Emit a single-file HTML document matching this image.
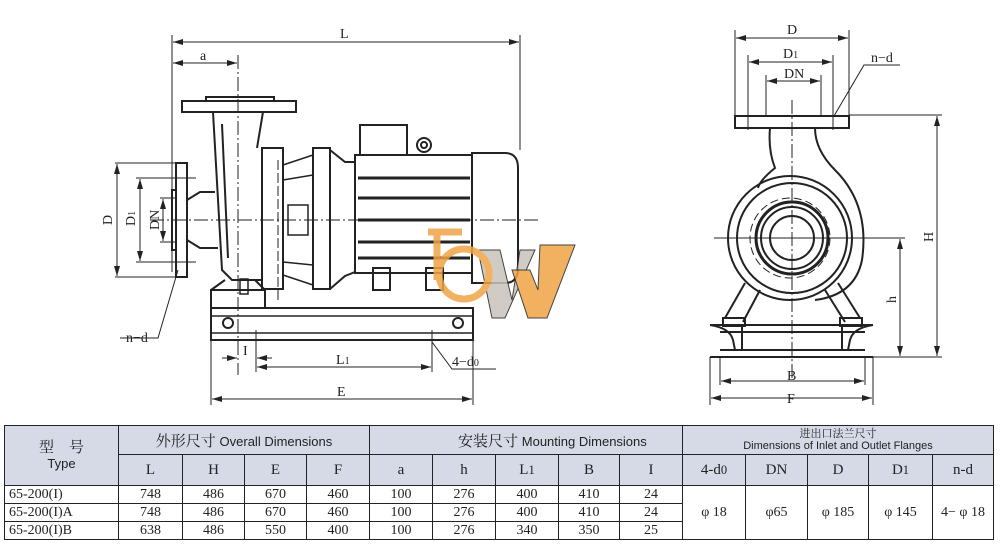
<!DOCTYPE html>
<html><head><meta charset="utf-8"><style>
html,body{margin:0;padding:0;background:#fff;width:1000px;height:549px;overflow:hidden}
svg{position:absolute;left:0;top:0}
table{position:absolute;left:4px;top:425px;border-collapse:collapse;font-family:"Liberation Serif","Noto Serif CJK SC",serif;table-layout:fixed}
td{border:1.5px solid #222;text-align:center;padding:0;color:#222;font-size:15px;overflow:hidden;white-space:nowrap}
.h{background:#d6dae7}
.s{font-family:"Liberation Sans","Noto Sans CJK SC",sans-serif;font-size:13px}
.d td{height:17px;line-height:17px;font-size:14px}
.d td.l{text-align:left;padding-left:4px}
</style></head><body>
<svg width="1000" height="420" viewBox="0 0 1000 420" font-family="Liberation Serif, serif" font-size="14" fill="none" stroke="#222">
<defs><marker id="a" markerWidth="10" markerHeight="6" refX="10" refY="3" orient="auto-start-reverse"><path d="M0,0 L10,3 L0,6z" fill="#222" stroke="none"/></marker></defs>
<g stroke-width="1" >
<!-- left dims -->
<line x1="172" y1="35" x2="172" y2="272"/><line x1="520" y1="35" x2="520" y2="150"/>
<line x1="173" y1="42" x2="519" y2="42" marker-start="url(#a)" marker-end="url(#a)"/>
<line x1="173" y1="63" x2="237" y2="63" marker-start="url(#a)" marker-end="url(#a)"/>
<line x1="238" y1="55" x2="238" y2="375" stroke-dasharray="14,3,2,3"/>
<line x1="115" y1="163" x2="178" y2="163"/><line x1="115" y1="277" x2="178" y2="277"/>
<line x1="117" y1="164" x2="117" y2="276" marker-start="url(#a)" marker-end="url(#a)"/>
<line x1="136" y1="178" x2="196" y2="178"/><line x1="136" y1="262" x2="196" y2="262"/>
<line x1="140" y1="179" x2="140" y2="261" marker-start="url(#a)" marker-end="url(#a)"/>
<line x1="160" y1="198" x2="176" y2="198"/><line x1="160" y1="242" x2="176" y2="242"/>
<line x1="163" y1="199" x2="163" y2="241" marker-start="url(#a)" marker-end="url(#a)"/>
<line x1="150" y1="220" x2="540" y2="220" stroke-dasharray="14,3,2,3"/>
<polyline points="178,270 158,338 120,338"/>
<line x1="211" y1="340" x2="211" y2="405"/><line x1="473" y1="340" x2="473" y2="405"/>
<line x1="256" y1="330" x2="256" y2="372"/><line x1="432" y1="330" x2="432" y2="372"/>
<line x1="212" y1="399" x2="472" y2="399" marker-start="url(#a)" marker-end="url(#a)"/>
<line x1="257" y1="367" x2="431" y2="367" marker-start="url(#a)" marker-end="url(#a)"/>
<line x1="222" y1="358" x2="237" y2="358" marker-end="url(#a)"/><line x1="272" y1="358" x2="257" y2="358" marker-end="url(#a)"/>
<polyline points="432,342 452,369 496,369"/>
<line x1="278" y1="160" x2="278" y2="300" stroke-dasharray="10,3"/>
</g>
<g stroke-width="2">
<!-- pump -->
<rect x="182" y="101" width="114" height="11"/><rect x="206" y="97" width="68" height="4"/>
<path d="M213,112 L222,270 L232,280 L262,280 M263,112 L257,148"/>
<path d="M222,124 L228,258"/>
<rect x="176" y="163" width="11" height="114"/><rect x="172" y="190" width="4" height="60"/>
<path d="M187,200 L200,192 L215,192 M187,240 L200,248 L218,248"/>
<rect x="262" y="148" width="21" height="141"/>
<path d="M283,165 L313,155 M283,275 L313,285 M283,180 L313,175 M283,262 L313,265" stroke-width="1.5"/>
<rect x="288" y="205" width="20" height="30" stroke-width="1.5"/>
<rect x="313" y="148" width="17" height="141"/>
<path d="M330,150 L345,162 L355,162 L355,272 L345,276 L330,289"/>
<rect x="355" y="155" width="117" height="118"/>
<path d="M358,178 H470 M358,198 H470 M358,220 H470 M358,242 H470 M358,258 H470" stroke-width="3"/>
<path d="M472,153 H505 Q518,153 518,168 V268 Q518,283 505,283 H472 Z"/>
<rect x="360" y="125" width="47" height="30"/>
<circle cx="424" cy="145" r="7"/><circle cx="424" cy="145" r="3"/>
<rect x="373" y="268" width="17" height="22"/><rect x="426" y="268" width="17" height="22"/>
<path d="M211,290 L225,280 M265,290 L255,280"/>
<rect x="211" y="290" width="54" height="18"/>
<rect x="211" y="308" width="262" height="32"/>
<line x1="211" y1="316" x2="473" y2="316" stroke-width="1.5"/><line x1="211" y1="333" x2="473" y2="333" stroke-width="1.5"/>
<circle cx="228" cy="323" r="5"/><circle cx="458" cy="323" r="5"/>
<rect x="240" y="279" width="8" height="15" stroke-width="1.5"/>
</g>
<g fill="#222" stroke="none" font-size="14">
<text x="340" y="38">L</text><text x="200" y="60">a</text>
<text x="126" y="342">n−d</text><text x="452" y="366">4−d<tspan font-size="10">0</tspan></text>
<text x="243" y="355">I</text><text x="336" y="364">L<tspan font-size="10">1</tspan></text><text x="337" y="396">E</text>
<text transform="translate(112,225) rotate(-90)">D</text>
<text transform="translate(135,226) rotate(-90)">D<tspan font-size="10">1</tspan></text>
<text transform="translate(159,230) rotate(-90)">DN</text>
<!-- right labels -->
<text x="787" y="34">D</text><text x="783" y="58">D<tspan font-size="10">1</tspan></text><text x="784" y="78">DN</text>
<text x="871" y="62">n−d</text><text transform="translate(933,242) rotate(-90)">H</text>
<text transform="translate(896,303) rotate(-90)">h</text>
<text x="787" y="380">B</text><text x="787" y="403">F</text>
</g>
<!-- right drawing -->
<g stroke-width="1">
<line x1="735" y1="30" x2="735" y2="116"/><line x1="849" y1="30" x2="849" y2="116"/>
<line x1="736" y1="38" x2="848" y2="38" marker-start="url(#a)" marker-end="url(#a)"/>
<line x1="748" y1="55" x2="748" y2="130"/><line x1="833" y1="55" x2="833" y2="130"/>
<line x1="749" y1="62" x2="832" y2="62" marker-start="url(#a)" marker-end="url(#a)"/>
<line x1="766" y1="75" x2="766" y2="116"/><line x1="821" y1="75" x2="821" y2="116"/>
<line x1="767" y1="81" x2="820" y2="81" marker-start="url(#a)" marker-end="url(#a)"/>
<polyline points="834,116 864,65 900,65"/>
<line x1="849" y1="115" x2="942" y2="115"/><line x1="860" y1="357" x2="942" y2="357"/>
<line x1="937" y1="116" x2="937" y2="356" marker-start="url(#a)" marker-end="url(#a)"/>
<line x1="900" y1="239" x2="900" y2="356" marker-start="url(#a)" marker-end="url(#a)"/>
<line x1="714" y1="238" x2="905" y2="238"/>
<line x1="792" y1="100" x2="792" y2="380" stroke-dasharray="14,3,2,3"/>
<line x1="720" y1="357" x2="720" y2="385"/><line x1="865" y1="357" x2="865" y2="385"/>
<line x1="710" y1="357" x2="710" y2="405"/><line x1="873" y1="357" x2="873" y2="405"/>
<line x1="721" y1="381" x2="864" y2="381" marker-start="url(#a)" marker-end="url(#a)"/>
<line x1="711" y1="398" x2="872" y2="398" marker-start="url(#a)" marker-end="url(#a)"/>
<circle cx="790" cy="238" r="40" stroke-dasharray="8,4"/>
</g>
<g stroke-width="2">
<rect x="735" y="116" width="114" height="12"/>
<path d="M770,128 Q768,150 775,168 Q760,180 758,188 M815,128 Q815,150 835,170 Q870,205 862,260 Q855,295 815,300"/>
<circle cx="790" cy="238" r="62"/><circle cx="792" cy="238" r="55"/>
<circle cx="792" cy="238" r="36" stroke-width="3"/><circle cx="792" cy="238" r="31"/><circle cx="792" cy="238" r="22"/>
<path d="M745,283 L725,318 M760,290 L743,322 M825,290 L845,322 M838,283 L860,318"/>
<rect x="723" y="318" width="22" height="8"/><rect x="840" y="318" width="22" height="8"/>
<path d="M710,325 H873 M720,332 H865 M710,357 H873 M720,350 H865"/>
<path d="M710,325 Q730,328 733,340 L735,350 M873,325 Q853,328 850,340 L848,350 M742,326 V350 M842,326 V350"/>
</g>
<!-- logo -->
<g opacity="0.85">
<polygon points="478,250 500,250 512,300 520,250 535,250 505,318 492,318" fill="#c9c3bb"/>
<polygon points="540,245 575,245 547,318 528,318 512,270 530,270 538,290" fill="#f0a446"/>
<g stroke="#f0a446" stroke-width="7" fill="none">
<line x1="428" y1="232" x2="462" y2="232"/><line x1="437" y1="232" x2="437" y2="280"/>
<circle cx="464" cy="274" r="25"/>
</g>
</g>
</svg>
<table>
<colgroup><col style="width:114px"><col style="width:64px"><col style="width:62px"><col style="width:62px"><col style="width:63px"><col style="width:63px"><col style="width:63px"><col style="width:63px"><col style="width:61px"><col style="width:63px"><col style="width:63px"><col style="width:62px"><col style="width:61px"><col style="width:64px"><col style="width:61px"></colgroup>
<tr style="height:29px"><td class="h" rowspan="2" style="line-height:16px">型　号<br><span class="s" style="font-size:13px">Type</span></td>
<td class="h" colspan="4" style="font-size:15px">外形尺寸 <span class="s">Overall Dimensions</span></td>
<td class="h" colspan="5" style="text-align:left;padding-left:88px">安装尺寸 <span class="s">Mounting Dimensions</span></td>
<td class="h" colspan="5" style="line-height:12px;font-size:11px">进出口法兰尺寸<br><span class="s" style="font-size:11px">Dimensions of Inlet and Outlet Flanges</span></td></tr>
<tr style="height:31px"><td class="h">L</td><td class="h">H</td><td class="h">E</td><td class="h">F</td><td class="h">a</td><td class="h">h</td><td class="h">L<small>1</small></td><td class="h">B</td><td class="h">I</td><td class="h">4-d<small>0</small></td><td class="h">DN</td><td class="h">D</td><td class="h">D<small>1</small></td><td class="h">n-d</td></tr>
<tr class="d"><td class="l">65-200(I)</td><td>748</td><td>486</td><td>670</td><td>460</td><td>100</td><td>276</td><td>400</td><td>410</td><td>24</td><td rowspan="3">φ 18</td><td rowspan="3">φ65</td><td rowspan="3">φ 185</td><td rowspan="3">φ 145</td><td rowspan="3">4− φ 18</td></tr>
<tr class="d"><td class="l">65-200(I)A</td><td>748</td><td>486</td><td>670</td><td>460</td><td>100</td><td>276</td><td>400</td><td>410</td><td>24</td></tr>
<tr class="d"><td class="l">65-200(I)B</td><td>638</td><td>486</td><td>550</td><td>400</td><td>100</td><td>276</td><td>340</td><td>350</td><td>25</td></tr>
</table>
</body></html>
